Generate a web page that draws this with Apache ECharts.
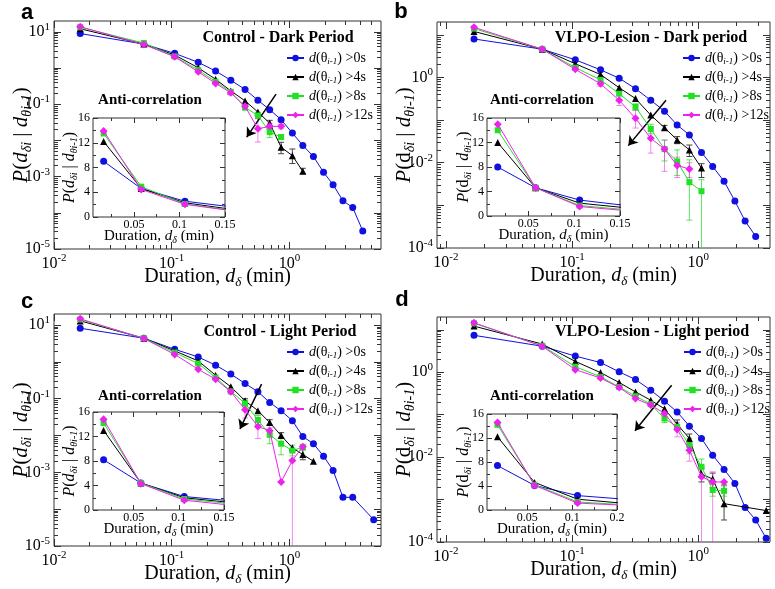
<!DOCTYPE html>
<html>
<head>
<meta charset="utf-8">
<script src="https://cdn.jsdelivr.net/npm/echarts@6/dist/echarts.min.js"></script>
<style>
  html, body { margin: 0; padding: 0; background: #fff; }
  #chart { width: 775px; height: 589px; }
</style>
</head>
<body>
<div id="chart"></div>
<script>
// bin durations (min), shared by every curve
const durations = [0.0167, 0.058, 0.106, 0.168, 0.236, 0.318, 0.42, 0.54, 0.68, 0.85, 1.06, 1.3, 1.6, 1.95, 2.35, 2.85, 3.45, 4.2, 5.2];
const seriesNames = ['>0s', '>4s', '>8s', '>12s'];

// a - Control, dark period
const blueA = [9.0, 4.6, 2.55, 1.44, 0.83, 0.46, 0.257, 0.129, 0.071, 0.0375, 0.016, 0.0073, 0.0036, 0.00132, 0.0006, 0.000215, 0.00014, 0.0000316];
const blackA = [12.2, 4.6, 2.3, 1.02, 0.49, 0.234, 0.124, 0.061, 0.030, 0.0065, 0.0038, 0.0014];
const greenA = [13.5, 4.9, 2.1, 0.88, 0.42, 0.22, 0.081, 0.049, 0.017, 0.0124];
const magentaA = [13.9, 4.45, 2.05, 0.79, 0.376, 0.207, 0.088, 0.021, 0.0245, 0.0245];
// error bars: [bin index, low, high]
const errBlackA = [[8, 0.022, 0.036], [9, 0.0043, 0.0089], [10, 0.0023, 0.0058], [11, 0.0012, 0.0017]];
const errGreenA = [[6, 0.07, 0.095], [7, 0.040, 0.060], [8, 0.012, 0.022], [9, 0.011, 0.014]];
const errMagentaA = [[5, 0.18, 0.235], [6, 0.075, 0.1], [7, 0.009, 0.040], [8, 0.02, 0.03], [9, 0.021, 0.028]];

// b - VLPO lesion, dark period
const blueB = [8.0, 4.6, 2.6, 1.51, 0.96, 0.546, 0.292, 0.162, 0.0766, 0.0448, 0.0174, 0.0082, 0.00367, 0.00126, 0.00043, 0.000187];
const blackB = [12, 4.6, 2.1, 1.17, 0.575, 0.319, 0.131, 0.066, 0.0343, 0.020, 0.0075];
const greenB = [14, 4.6, 1.7, 0.88, 0.417, 0.204, 0.0618, 0.0209, 0.0107, 0.0035, 0.00215];
const magentaB = [15, 4.6, 1.55, 0.713, 0.292, 0.11, 0.0375, 0.0209, 0.00865, 0.0071];
const errBlackB = [[7, 0.058, 0.075], [8, 0.028, 0.041], [9, 0.014, 0.026], [10, 0.0045, 0.0095]];
const errGreenB = [[5, 0.17, 0.24], [6, 0.048, 0.08], [7, 0.011, 0.034], [8, 0.005, 0.02], [9, 0.00045, 0.0117], [10, 0.000001, 0.004]];
const errMagentaB = [[3, 0.62, 0.82], [4, 0.22, 0.38], [5, 0.065, 0.17], [6, 0.0168, 0.064], [7, 0.0063, 0.034], [8, 0.0045, 0.0135], [9, 0.0045, 0.010]];

// c - Control, light period
const blueC = [8.2, 4.4, 2.2, 1.36, 0.815, 0.466, 0.259, 0.155, 0.079, 0.047, 0.0254, 0.0094, 0.006, 0.00276, 0.00113, 0.00021, 0.00021, null, 0.000052];
const blackC = [13, 4.4, 2.0, 1.06, 0.436, 0.211, 0.088, 0.0474, 0.0225, 0.01, 0.00465, 0.00306, 0.002];
const greenC = [14.2, 4.4, 1.8, 0.9, 0.377, 0.158, 0.0747, 0.0265, 0.0106, 0.006, 0.0039, 0.0048];
const magentaC = [14.8, 4.3, 1.6, 0.63, 0.34, 0.155, 0.0505, 0.0175, 0.0136, 0.00055, 0.0021, 0.005];
const errBlackC = [[6, 0.075, 0.1], [8, 0.019, 0.027], [9, 0.0085, 0.012], [11, 0.0022, 0.0042]];
const errGreenC = [[6, 0.06, 0.09], [7, 0.02, 0.035], [8, 0.006, 0.016], [9, 0.003, 0.009], [10, 0.0028, 0.0055], [11, 0.004, 0.0058]];
const errMagentaC = [[6, 0.03, 0.07], [7, 0.0083, 0.024], [8, 0.009, 0.02], [10, 0.0000001, 0.0035]];

// d - VLPO lesion, light period
const blueD = [7.4, 4.1, 2.4, 1.69, 1.02, 0.673, 0.377, 0.208, 0.116, 0.0537, 0.0275, 0.0111, 0.00514, 0.0024, 0.00065, 0.00033, 0.000122];
const blackD = [12.2, 4.6, 1.8, 0.98, 0.572, 0.344, 0.219, 0.137, 0.0597, 0.0275, 0.004, 0.00304, 0.0008, null, null, null, 0.00055];
const greenD = [14.2, 4.2, 1.35, 0.78, 0.45, 0.272, 0.177, 0.081, 0.0517, 0.0192, 0.0059, 0.00168, 0.0016];
const magentaD = [14.6, 4.1, 1.15, 0.73, 0.436, 0.24, 0.168, 0.107, 0.045, 0.0146, 0.00345, 0.0026, 0.0026];
const errBlackD = [[8, 0.045, 0.075], [9, 0.02, 0.035], [10, 0.0026, 0.0055], [11, 0.0019, 0.0042], [12, 0.00033, 0.0022]];
const errGreenD = [[7, 0.065, 0.1], [9, 0.012, 0.028], [10, 0.0035, 0.009], [11, 0.0012, 0.0023], [12, 0.0012, 0.0021]];
const errMagentaD = [[8, 0.03, 0.065], [9, 0.008, 0.022], [10, 0.0000001, 0.006], [11, 0.0000001, 0.0045]];

// arrows (data coords): [from, to]
const arrowA = [[0.77, 0.19], [0.434, 0.0124]];
const arrowB = [[0.555, 0.292], [0.279, 0.0252]];
const arrowC = [[0.58, 0.25], [0.38, 0.0151]];
const arrowD = [[0.615, 0.494], [0.315, 0.0416]];

const LOG = Math.log10;
const serif = 'Liberation Serif';
const colors = ['#1010e0', '#000000', '#22e022', '#ee22ee'];
const errColors = ['#1010e0', '#444444', 'rgba(40,220,40,0.75)', 'rgba(230,60,230,0.6)'];
const symbols = ['circle', 'triangle', 'rect', 'diamond'];
const symbolSizes = [7, 7, 6, 8];

const yNameItalic = '{i|P}({i|d}{sub|δi} | {i|d}{sub|θi-1})';
const yNameRoman = '{i|P}(d{sub|δi} | {i|d}{sub|θi-1})';

const panels = [
  { letter: 'a', letterPos: [27, 13], title: 'Control - Dark Period', titlePos: [278, 38],
    main: { left: 54, top: 21, width: 327, height: 228 }, xMin: 0.01, xMax: 6, yMin: -5, yExps: [1, -1, -3, -5], yName: yNameItalic,
    inset: { left: 93, top: 118, width: 132, height: 99 }, insetTitlePos: [150, 100], lastLabel: '0.15',
    legend: { left: 286, top: 51 }, data: [blueA, blackA, greenA, magentaA], errs: [[], errBlackA, errGreenA, errMagentaA], arrow: arrowA },
  { letter: 'b', letterPos: [401, 12], title: 'VLPO-Lesion - Dark period', titlePos: [651, 38],
    main: { left: 437, top: 22, width: 333, height: 226 }, xMin: 0.0085, xMax: 3.7, yMin: -4, yExps: [0, -2, -4], yName: yNameRoman,
    inset: { left: 487, top: 118, width: 133, height: 98 }, insetTitlePos: [542, 100], lastLabel: '0.15',
    legend: { left: 682, top: 51 }, data: [blueB, blackB, greenB, magentaB], errs: [[], errBlackB, errGreenB, errMagentaB], arrow: arrowB },
  { letter: 'c', letterPos: [27, 302], title: 'Control - Light Period', titlePos: [280, 332],
    main: { left: 54, top: 314, width: 327, height: 232 }, xMin: 0.01, xMax: 6, yMin: -5, yExps: [1, -1, -3, -5], yName: yNameItalic,
    inset: { left: 93, top: 412, width: 131, height: 98 }, insetTitlePos: [150, 396], lastLabel: '0.15',
    legend: { left: 286, top: 345 }, data: [blueC, blackC, greenC, magentaC], errs: [[], errBlackC, errGreenC, errMagentaC], arrow: arrowC },
  { letter: 'd', letterPos: [402, 300], title: 'VLPO-Lesion - Light period', titlePos: [652, 332],
    main: { left: 437, top: 317, width: 333, height: 225 }, xMin: 0.0085, xMax: 3.7, yMin: -4, yExps: [0, -2, -4], yName: yNameRoman,
    inset: { left: 487, top: 414, width: 130, height: 96 }, insetTitlePos: [542, 396], lastLabel: '0.2',
    legend: { left: 683, top: 345 }, data: [blueD, blackD, greenD, magentaD], errs: [[], errBlackD, errGreenD, errMagentaD], arrow: arrowD }
];

function rich(size) {
  return {
    i: { fontStyle: 'italic', fontSize: size, fontFamily: serif, color: '#000' },
    sub: { fontStyle: 'italic', fontSize: Math.round(size * 0.65), fontFamily: serif, color: '#000', padding: [Math.round(size * 0.55), 0, 0, 0] },
    sup: { fontSize: Math.round(size * 0.68), fontFamily: serif, color: '#000', padding: [0, 0, Math.round(size * 0.6), 0] }
  };
}

function majors(lo, hi) {
  const r = [];
  for (let n = Math.ceil(lo - 1e-9); n <= hi + 1e-9; n++) r.push(n);
  return r;
}
function minors(lo, hi) {
  const r = [];
  for (let n = Math.floor(lo); n <= Math.ceil(hi); n++) {
    for (let k = 2; k <= 9; k++) {
      const v = n + LOG(k);
      if (v > lo && v < hi) r.push(v);
    }
  }
  return r;
}

const grids = [], xAxes = [], yAxes = [], series = [], legends = [], graphic = [];

function tickAxis(list, gi, range, position, values, len, extra) {
  list.push(Object.assign({
    type: 'value', gridIndex: gi, min: range[0], max: range[1], position: position,
    splitLine: { show: false }, axisLine: { show: false, onZero: false },
    axisTick: { show: true, inside: true, length: len, customValues: values, lineStyle: { color: '#333', width: 1 } },
    axisLabel: { show: false }, nameMoveOverlap: false
  }, extra || {}));
  return list.length - 1;
}

function errorBarItem(params, api) {
  const x = api.value(0), lo = api.value(1), hi = api.value(2);
  const p1 = api.coord([x, hi]), p2 = api.coord([x, lo]);
  const w = 3;
  const style = { stroke: api.visual('color'), lineWidth: 1 };
  return {
    type: 'group', children: [
      { type: 'line', shape: { x1: p1[0], y1: p1[1], x2: p2[0], y2: p2[1] }, style: style },
      { type: 'line', shape: { x1: p1[0] - w, y1: p1[1], x2: p1[0] + w, y2: p1[1] }, style: style },
      { type: 'line', shape: { x1: p2[0] - w, y1: p2[1], x2: p2[0] + w, y2: p2[1] }, style: style }
    ]
  };
}

const expLabel = v => { const n = Math.round(v); return '10{sup|' + n + '}'; };

panels.forEach(p => {
  // main log-log grid (values carried as log10)
  const gi = grids.length;
  grids.push(Object.assign({ show: true, borderColor: '#333', borderWidth: 1, outerBoundsMode: 'none', containLabel: false }, p.main));
  const xr = [LOG(p.xMin), LOG(p.xMax)], yr = [p.yMin, LOG(20)];
  const xMain = tickAxis(xAxes, gi, xr, 'bottom', majors(xr[0], xr[1]), 7, {
    axisLabel: { show: true, customValues: [-2, -1, 0], formatter: expLabel, margin: 4,
      fontFamily: serif, fontSize: 16, color: '#000', rich: rich(16) },
    name: 'Duration, {i|d}{sub|δ} (min)', nameLocation: 'middle', nameGap: 16,
    nameTextStyle: { fontFamily: serif, fontSize: 20, color: '#000', rich: rich(20) }
  });
  tickAxis(xAxes, gi, xr, 'bottom', minors(xr[0], xr[1]), 4);
  tickAxis(xAxes, gi, xr, 'top', majors(xr[0], xr[1]), 7);
  tickAxis(xAxes, gi, xr, 'top', minors(xr[0], xr[1]), 4);
  const yMain = tickAxis(yAxes, gi, yr, 'left', majors(yr[0], yr[1]), 7, {
    axisLabel: { show: true, customValues: p.yExps, formatter: expLabel, margin: 4,
      fontFamily: serif, fontSize: 16, color: '#000', rich: rich(16) },
    name: p.yName, nameLocation: 'middle', nameRotate: 90, nameGap: 20,
    nameTextStyle: { fontFamily: serif, fontSize: 21, color: '#000', rich: rich(21) }
  });
  tickAxis(yAxes, gi, yr, 'left', minors(yr[0], yr[1]), 4);
  tickAxis(yAxes, gi, yr, 'right', majors(yr[0], yr[1]), 7);
  tickAxis(yAxes, gi, yr, 'right', minors(yr[0], yr[1]), 4);

  // linear inset
  const ii = grids.length;
  grids.push(Object.assign({ show: true, borderColor: '#333', borderWidth: 1, backgroundColor: '#fff', outerBoundsMode: 'none', containLabel: false }, p.inset));
  const ixr = [0.005, 0.15], iyr = [0, 16];
  const last = p.lastLabel;
  const xIn = tickAxis(xAxes, ii, ixr, 'bottom', [0.05, 0.1, 0.15], 5, {
    axisLabel: { show: true, customValues: [0.05, 0.1, 0.15], margin: 2,
      formatter: v => (Math.abs(v - 0.15) < 1e-9 ? last : String(v)),
      fontFamily: serif, fontSize: 12, color: '#000' },
    name: 'Duration, {i|d}{sub|δ} (min)', nameLocation: 'middle', nameGap: 10,
    nameTextStyle: { fontFamily: serif, fontSize: 15, color: '#000', rich: rich(15) }
  });
  tickAxis(xAxes, ii, ixr, 'bottom', [0.025, 0.075, 0.125], 3);
  tickAxis(xAxes, ii, ixr, 'top', [0.05, 0.1, 0.15], 5);
  tickAxis(xAxes, ii, ixr, 'top', [0.025, 0.075, 0.125], 3);
  const yIn = tickAxis(yAxes, ii, iyr, 'left', [0, 4, 8, 12, 16], 5, {
    axisLabel: { show: true, customValues: [0, 4, 8, 12, 16], margin: 3,
      fontFamily: serif, fontSize: 12, color: '#000' },
    name: p.yName, nameLocation: 'middle', nameRotate: 90, nameGap: 14,
    nameTextStyle: { fontFamily: serif, fontSize: 16, color: '#000', rich: rich(16) }
  });
  tickAxis(yAxes, ii, iyr, 'left', [2, 6, 10, 14], 3);
  tickAxis(yAxes, ii, iyr, 'right', [0, 4, 8, 12, 16], 5);
  tickAxis(yAxes, ii, iyr, 'right', [2, 6, 10, 14], 3);

  // curves
  p.data.forEach((vals, s) => {
    const pts = [];
    vals.forEach((v, i) => { if (v != null) pts.push([durations[i], v]); });
    const common = {
      type: 'line', name: seriesNames[s], symbol: symbols[s], symbolSize: symbolSizes[s],
      itemStyle: { color: colors[s] }, lineStyle: { color: colors[s], width: 1 }, clip: true, z: 3 + s
    };
    const mainSeries = Object.assign({}, common, {
      xAxisIndex: xMain, yAxisIndex: yMain, data: pts.map(q => [LOG(q[0]), LOG(q[1])])
    });
    if (s === 1) {
      mainSeries.markLine = {
        silent: true, symbol: ['none', 'arrow'], symbolSize: 9, animation: false,
        lineStyle: { color: '#000', width: 1.5, type: 'solid' }, label: { show: false },
        data: [[{ coord: [LOG(p.arrow[0][0]), LOG(p.arrow[0][1])] }, { coord: [LOG(p.arrow[1][0]), LOG(p.arrow[1][1])] }]]
      };
    }
    series.push(mainSeries);
    series.push(Object.assign({}, common, { xAxisIndex: xIn, yAxisIndex: yIn, data: pts }));
    if (p.errs[s].length) {
      series.push({
        type: 'custom', xAxisIndex: xMain, yAxisIndex: yMain, clip: true, silent: true, z: 2,
        itemStyle: { color: errColors[s] }, renderItem: errorBarItem, encode: { x: 0, y: [1, 2] },
        data: p.errs[s].map(e => [LOG(durations[e[0]]), LOG(e[1]), LOG(e[2])])
      });
    }
  });

  legends.push({
    left: p.legend.left, top: p.legend.top, orient: 'vertical', itemWidth: 17, itemHeight: 8, itemGap: 4,
    selectedMode: false, data: seriesNames, padding: 0,
    formatter: n => '{i|d}(θ{sub|i-1}) ' + n,
    textStyle: { fontFamily: serif, fontSize: 14, color: '#000', rich: {
      i: { fontStyle: 'italic', fontSize: 14, fontFamily: serif, color: '#000' },
      sub: { fontStyle: 'italic', fontSize: 9, fontFamily: serif, color: '#000', padding: [7, 0, 0, 0] }
    } }
  });

  graphic.push({ type: 'text', x: p.letterPos[0], y: p.letterPos[1],
    style: { text: p.letter, font: 'bold 22px "Liberation Sans"', fill: '#000', textAlign: 'center', textVerticalAlign: 'middle', align: 'center', verticalAlign: 'middle' } });
  graphic.push({ type: 'text', x: p.titlePos[0], y: p.titlePos[1],
    style: { text: p.title, font: 'bold 16px "Liberation Serif"', fill: '#000', textAlign: 'center', textVerticalAlign: 'middle', align: 'center', verticalAlign: 'middle' } });
  graphic.push({ type: 'text', x: p.insetTitlePos[0], y: p.insetTitlePos[1],
    style: { text: 'Anti-correlation', font: 'bold 15px "Liberation Serif"', fill: '#000', textAlign: 'center', textVerticalAlign: 'middle', align: 'center', verticalAlign: 'middle' } });
});

const chart = echarts.init(document.getElementById('chart'), null, { renderer: 'canvas' });
chart.setOption({
  animation: false,
  backgroundColor: '#fff',
  textStyle: { fontFamily: serif },
  grid: grids,
  xAxis: xAxes,
  yAxis: yAxes,
  legend: legends,
  series: series,
  graphic: graphic
});
</script>
</body>
</html>
